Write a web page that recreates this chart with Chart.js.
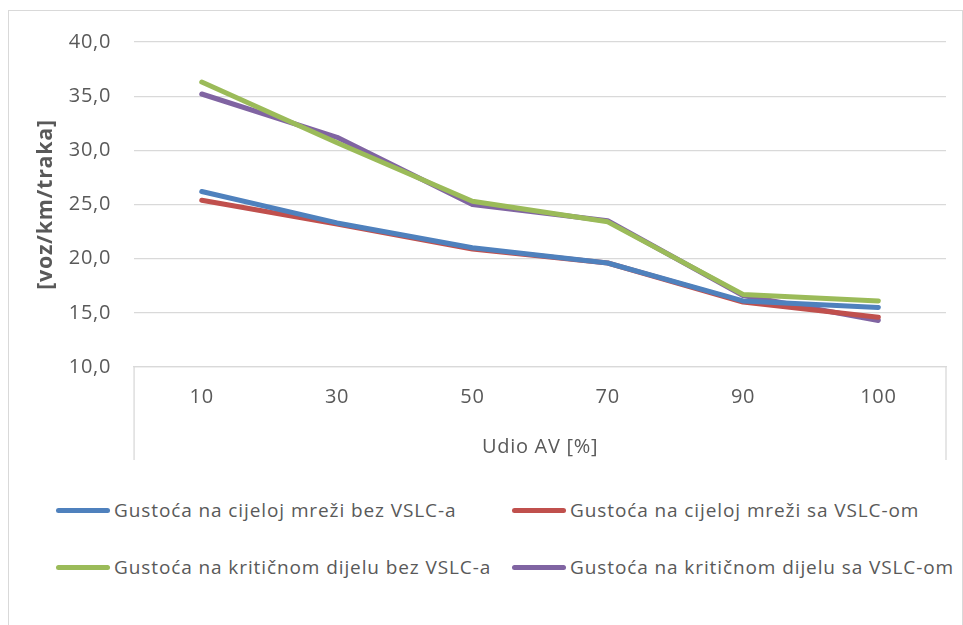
<!DOCTYPE html>
<html>
<head>
<meta charset="utf-8">
<script src="https://cdn.jsdelivr.net/npm/chart.js@4/dist/chart.umd.min.js"></script>
<style>
    body { margin: 0; background: #fff; font-family: "Open Sans", sans-serif; }
    #frame { position: absolute; left: 8px; top: 10px; width: 953px; height: 640px; border: 1px solid #d9d9d9; }
    #wrap { position: absolute; left: 0; top: -4px; width: 953px; height: 453px; }
    #legend { position: absolute; left: 47px; top: 486px; display: grid; grid-template-columns: 456px 460px; row-gap: 31px; }
    .item { display: flex; align-items: center; font-size: 19px; line-height: 26px; letter-spacing: 0.9px; color: #595959; white-space: nowrap; }
    .mark { width: 54px; height: 5px; border-radius: 3px; margin-right: 4px; }
</style>
</head>
<body>
<div id="frame">
    <div id="wrap"><canvas id="line-chart"></canvas></div>
    <div id="legend"></div>
</div>
<script>
    // Data
    const categories = ["10", "30", "50", "70", "90", "100"];
    const seriesNames = [
        "Gustoća na cijeloj mreži bez VSLC-a",
        "Gustoća na cijeloj mreži sa VSLC-om",
        "Gustoća na kritičnom dijelu bez VSLC-a",
        "Gustoća na kritičnom dijelu sa VSLC-om"
    ];
    const mrezaBez = [26.2, 23.3, 21.0, 19.6, 16.1, 15.5];
    const mrezaSa = [25.4, 23.2, 20.9, 19.6, 16.0, 14.6];
    const kriticniBez = [36.3, 30.7, 25.3, 23.4, 16.7, 16.1];
    const kriticniSa = [35.2, 31.2, 25.0, 23.5, 16.6, 14.3];
    const colors = ["#4F81BD", "#C0504D", "#9BBB59", "#8064A2"];

    Chart.defaults.font.family = "'Open Sans', sans-serif";
    Chart.defaults.color = "#595959";

    // a bit wider text, closer to the original font
    const spacing = {
        id: "spacing",
        beforeLayout(chart) { chart.ctx.letterSpacing = "0.7px"; },
        beforeDraw(chart) { chart.ctx.letterSpacing = "0.7px"; }
    };

    // vertical lines at both ends of the category axis
    const edgeLines = {
        id: "edgeLines",
        afterDraw(chart) {
            const c = chart.ctx, a = chart.chartArea, x = chart.scales.x;
            c.save();
            c.strokeStyle = "#d9d9d9";
            c.lineWidth = 1.3;
            c.beginPath();
            [a.left, a.right].forEach(px => {
                c.moveTo(px, a.bottom);
                c.lineTo(px, x.bottom);
            });
            c.stroke();
            c.restore();
        }
    };

    const data = [mrezaBez, mrezaSa, kriticniBez, kriticniSa];
    const ctx = document.getElementById("line-chart").getContext("2d");
    const myChart = new Chart(ctx, {
        type: "line",
        data: {
            labels: categories,
            datasets: seriesNames.map((name, i) => ({
                label: name,
                data: data[i],
                borderColor: colors[i],
                backgroundColor: colors[i],
                borderWidth: 5,
                borderCapStyle: "round",
                borderJoinStyle: "round",
                pointRadius: 0,
                fill: false,
                tension: 0
            }))
        },
        plugins: [spacing, edgeLines],
        options: {
            responsive: true,
            maintainAspectRatio: false,
            animation: false,
            layout: { padding: { left: 24, right: 16, top: 0, bottom: 0 } },
            plugins: {
                legend: { display: false },
                tooltip: { enabled: false }
            },
            scales: {
                x: {
                    offset: true,
                    grid: { display: false },
                    border: { display: true, color: "#d9d9d9", width: 1.3 },
                    ticks: { font: { size: 20 }, padding: 10 },
                    title: { display: true, text: "Udio AV [%]", font: { size: 20 }, padding: { top: 16, bottom: 1 } }
                },
                y: {
                    min: 10,
                    max: 40,
                    ticks: {
                        stepSize: 5,
                        font: { size: 20 },
                        padding: 23,
                        callback: v => v.toFixed(1).replace(".", ",")
                    },
                    grid: { color: "#d9d9d9", lineWidth: 1.3, drawTicks: false },
                    border: { display: false },
                    title: { display: true, text: "[voz/km/traka]", font: { size: 21.5, weight: "bold" }, padding: { top: 0, bottom: -13 } }
                }
            }
        }
    });

    // legend in two columns
    const legend = document.getElementById("legend");
    myChart.data.datasets.forEach(ds => {
        const item = document.createElement("div");
        item.className = "item";
        item.innerHTML = '<span class="mark" style="background:' + ds.borderColor + '"></span>' + ds.label;
        legend.appendChild(item);
    });
</script>
</body>
</html>
